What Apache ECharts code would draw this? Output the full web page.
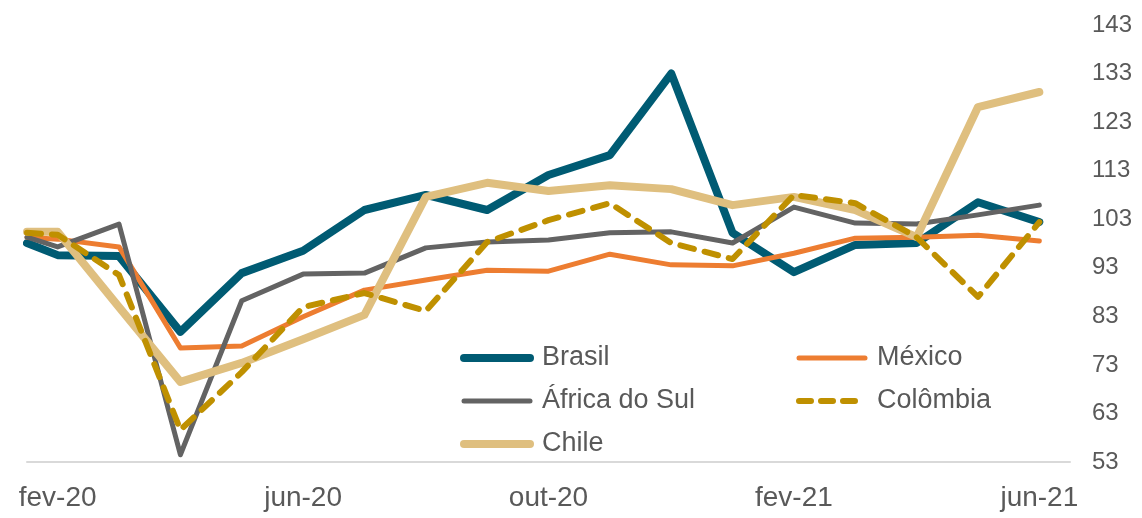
<!DOCTYPE html>
<html>
<head>
<meta charset="utf-8">
<script src="https://cdn.jsdelivr.net/npm/echarts@6/dist/echarts.min.js"></script>
<style>
  html, body { margin: 0; padding: 0; background: #fff; }
  #chart { width: 1142px; height: 518px; }
</style>
</head>
<body>
<div id="chart"></div>
<script>
// months on the axis; every series also has a starting value drawn at the left edge
const months = ['fev-20', 'mar-20', 'abr-20', 'mai-20', 'jun-20', 'jul-20', 'ago-20', 'set-20',
  'out-20', 'nov-20', 'dez-20', 'jan-21', 'fev-21', 'mar-21', 'abr-21', 'mai-21', 'jun-21'];
const labelMonths = [0, 4, 8, 12, 16];
const yTicks = [53, 143, 10];

// first value = start of the period, then fev-20 .. jun-21
const brasil   = [98.1, 95.6, 95.4, 79.8, 91.9, 96.5, 104.9, 108.0, 104.9, 112.1, 116.2, 133.0, 100.2, 92.1, 97.7, 98.1, 106.5, 102.4];
const mexico   = [99.3, 98.9, 97.3, 76.5, 76.9, 82.9, 88.4, 90.5, 92.5, 92.3, 95.8, 93.6, 93.4, 96.0, 99.1, 99.3, 99.7, 98.5];
const africa   = [99.3, 97.3, 102.0, 54.5, 86.2, 91.7, 91.9, 97.1, 98.3, 98.7, 100.2, 100.4, 98.1, 105.5, 102.2, 102.0, 103.9, 105.9];
const colombia = [100.2, 99.8, 91.5, 59.6, 71.5, 84.9, 87.8, 84.1, 98.3, 102.8, 106.3, 98.1, 94.8, 108.0, 106.3, 99.3, 87.0, 102.4];
const chile    = [100.4, 100.4, 84.9, 69.5, 73.4, 78.3, 83.3, 107.6, 110.5, 108.8, 110.0, 109.2, 105.9, 107.6, 104.9, 99.3, 126.1, 129.2];

const font = 'Liberation Sans';
const txt = '#595959';

function toPoints (vals) {
  return vals.map((v, k) => [k === 0 ? -0.5 : k - 1, v]);
}

const styles = {
  'Brasil':        { color: '#005B73', width: 8, type: 'solid' },
  'México':        { color: '#ED7D31', width: 5, type: 'solid' },
  'África do Sul': { color: '#636363', width: 5, type: 'solid' },
  'Chile':         { color: '#DFBF7F', width: 8, type: 'solid' },
  'Colômbia':      { color: '#BF9000', width: 6, type: [14, 11] }
};
const seriesData = {
  'Brasil': brasil, 'México': mexico, 'África do Sul': africa, 'Chile': chile, 'Colômbia': colombia
};

function legendItem (name) {
  let s = styles[name];
  return {
    name: name,
    itemStyle: { color: 'transparent', borderWidth: 0, opacity: 0 },
    lineStyle: { color: s.color, width: s.width, type: name === 'Colômbia' ? [12, 10] : 'solid', cap: 'round', opacity: 1 }
  };
}

let chart = echarts.init(document.getElementById('chart'));
let legendBase = {
  orient: 'vertical',
  itemWidth: 66,
  itemHeight: 14,
  itemGap: 13,
  top: 338,
  textStyle: { fontFamily: font, fontSize: 27, color: txt, lineHeight: 30, padding: [0, 0, 0, 7] },
  selectedMode: false
};

let option = {
  animation: false,
  backgroundColor: '#fff',
  grid: { left: 27, right: 72, top: 25, bottom: 56, containLabel: false },
  legend: [
    Object.assign({}, legendBase, { left: 455, data: ['Brasil', 'África do Sul', 'Chile'].map(legendItem) }),
    Object.assign({}, legendBase, { left: 791, data: ['México', 'Colômbia'].map(legendItem) })
  ],
  xAxis: {
    type: 'value',
    min: -0.5,
    max: 16.5,
    axisLine: { show: true, lineStyle: { color: '#d9d9d9', width: 2 } },
    axisTick: { show: false },
    splitLine: { show: false },
    axisLabel: {
      customValues: labelMonths,
      formatter: v => months[Math.round(v)],
      margin: 22,
      fontFamily: font,
      fontSize: 28,
      color: txt
    }
  },
  yAxis: {
    type: 'value',
    position: 'right',
    min: yTicks[0],
    max: yTicks[1],
    interval: yTicks[2],
    axisLine: { show: false },
    axisTick: { show: false },
    splitLine: { show: false },
    axisLabel: { margin: 22, fontFamily: font, fontSize: 24, color: txt, align: 'left' }
  },
  series: ['Brasil', 'México', 'África do Sul', 'Chile', 'Colômbia'].map(name => ({
    name: name,
    type: 'line',
    symbol: 'none',
    data: toPoints(seriesData[name]),
    itemStyle: { color: styles[name].color },
    lineStyle: {
      color: styles[name].color,
      width: styles[name].width,
      type: styles[name].type,
      cap: 'round',
      join: 'round'
    }
  }))
};
chart.setOption(option);
</script>
</body>
</html>
